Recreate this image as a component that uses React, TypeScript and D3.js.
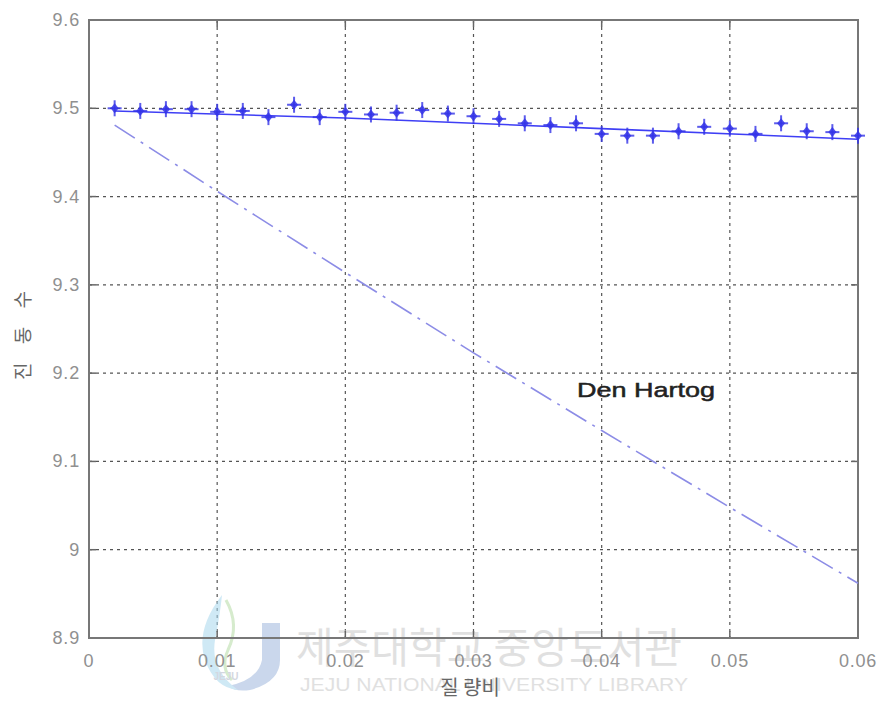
import React from "react";
import * as d3 from "d3";

const xTicks = [0, 0.01, 0.02, 0.03, 0.04, 0.05, 0.06];
const xTickLabels = ["0", "0.01", "0.02", "0.03", "0.04", "0.05", "0.06"];
const yTicks = [8.9, 9, 9.1, 9.2, 9.3, 9.4, 9.5, 9.6];
const yTickLabels = ["8.9", "9", "9.1", "9.2", "9.3", "9.4", "9.5", "9.6"];

const massRatio = [
  0.002, 0.004, 0.006, 0.008, 0.01, 0.012, 0.014, 0.016, 0.018, 0.02,
  0.022, 0.024, 0.026, 0.028, 0.03, 0.032, 0.034, 0.036, 0.038, 0.04,
  0.042, 0.044, 0.046, 0.048, 0.05, 0.052, 0.054, 0.056, 0.058, 0.06,
];
const freqMeasured = [
  9.5, 9.497, 9.499, 9.499, 9.496, 9.497, 9.49, 9.504, 9.49, 9.496,
  9.493, 9.495, 9.498, 9.494, 9.491, 9.488, 9.483, 9.481, 9.483, 9.471,
  9.469, 9.469, 9.474, 9.479, 9.477, 9.471, 9.483, 9.474, 9.473, 9.469,
];

const fitX = [0.002, 0.02, 0.04, 0.06];
const fitY = [9.497, 9.489, 9.477, 9.465];

const denX = [0.002, 0.01, 0.02, 0.03, 0.04, 0.05, 0.06];
const denY = [9.481, 9.406, 9.314, 9.223, 9.135, 9.048, 8.962];

const W = 883;
const H = 710;
const L = 89, R = 858, T = 20, B = 638;

export default function App() {
  const x = d3.scaleLinear().domain([0, 0.06]).range([L, R]);
  const y = d3.scaleLinear().domain([8.9, 9.6]).range([B, T]);
  const line = d3
    .line<[number, number]>()
    .x((d) => x(d[0]))
    .y((d) => y(d[1]));
  const fitPath = line(fitX.map((v, i) => [v, fitY[i]] as [number, number])) || "";
  const denPath = line(denX.map((v, i) => [v, denY[i]] as [number, number])) || "";
  const gridColor = "#555";
  const labelColor = "#909090";
  const font = "Liberation Sans, Arial, sans-serif";

  return (
    <svg
      width={W}
      height={H}
      style={{ position: "absolute", left: 0, top: 0, background: "#fff" }}
      fontFamily={font}
    >
      <rect x={0} y={0} width={W} height={H} fill="#fff" />
      {/* grid */}
      {xTicks.slice(1, -1).map((t) => (
        <line
          key={"gx" + t}
          x1={x(t)}
          x2={x(t)}
          y1={T}
          y2={B}
          stroke={gridColor}
          strokeWidth={1.2}
          strokeDasharray="3,4"
        />
      ))}
      {yTicks.slice(1, -1).map((t) => (
        <line
          key={"gy" + t}
          x1={L}
          x2={R}
          y1={y(t)}
          y2={y(t)}
          stroke={gridColor}
          strokeWidth={1.2}
          strokeDasharray="3,4"
        />
      ))}
      {/* watermark */}
      <g opacity={0.55}>
        <path
          d="M262,623 L280,623 L280,660 Q280,682 250,690 Q235,692 228,686 Q258,680 262,660 Z"
          fill="#9fb7dd"
        />
        <path
          d="M222,595 Q195,630 205,660 Q215,688 238,690 Q210,670 215,640 Q220,615 222,595 Z"
          fill="#a9d8ee"
        />
        <path
          d="M226,600 Q240,625 228,650 Q220,668 232,680"
          fill="none"
          stroke="#b5dca5"
          strokeWidth={3}
        />
        <text x={226} y={680} fontSize={10} fill="#b0b8c8" textAnchor="middle" fontWeight="bold">JEJU</text>
        <text
          x={296}
          y={663}
          fontSize={42}
          fill="#c8c8c8"
          fontFamily="Noto Sans CJK KR, sans-serif"
          textLength={386}
          lengthAdjust="spacingAndGlyphs"
        >
          제주대학교 중앙도서관
        </text>
        <text
          x={300}
          y={691}
          fontSize={18}
          fill="#c8c8c8"
          textLength={388}
          lengthAdjust="spacingAndGlyphs"
        >
          JEJU NATIONAL UNIVERSITY LIBRARY
        </text>
      </g>
      {/* ticks */}
      {xTicks.map((t) => (
        <g key={"tx" + t}>
          <line x1={x(t)} x2={x(t)} y1={B} y2={B - 7} stroke="#666" strokeWidth={1.5} />
          <line x1={x(t)} x2={x(t)} y1={T} y2={T + 7} stroke="#666" strokeWidth={1.5} />
        </g>
      ))}
      {yTicks.map((t) => (
        <g key={"ty" + t}>
          <line x1={L} x2={L + 7} y1={y(t)} y2={y(t)} stroke="#666" strokeWidth={1.5} />
          <line x1={R} x2={R - 7} y1={y(t)} y2={y(t)} stroke="#666" strokeWidth={1.5} />
        </g>
      ))}
      {/* box */}
      <rect x={L} y={T} width={R - L} height={B - T} fill="none" stroke="#777" strokeWidth={2} />
      {/* Den Hartog line */}
      <path d={denPath} fill="none" stroke="#8c8ce6" strokeWidth={1.6} strokeDasharray="24,7,3,7" />
      {/* fit line */}
      <path d={fitPath} fill="none" stroke="#3f3ff5" strokeWidth={1.6} />
      {/* markers */}
      {massRatio.map((m, i) => {
        const cx = x(m);
        const cy = y(freqMeasured[i]);
        return (
          <g key={"m" + i} stroke="#3434e8" fill="#3434e8">
            <line x1={cx - 7} x2={cx + 7} y1={cy} y2={cy} strokeWidth={2} opacity={0.8} />
            <line x1={cx} x2={cx} y1={cy - 8} y2={cy + 8} strokeWidth={2} opacity={0.8} />
            <path
              d={`M${cx},${cy - 5}L${cx + 4},${cy}L${cx},${cy + 5}L${cx - 4},${cy}Z`}
              stroke="none"
              opacity={0.85}
            />
          </g>
        );
      })}
      {/* tick labels */}
      {xTicks.map((t, i) => (
        <text
          key={"lx" + t}
          x={x(t)}
          y={667}
          fontSize={18}
          fill={labelColor}
          textAnchor="middle"
          letterSpacing={0.8}
        >
          {xTickLabels[i]}
        </text>
      ))}
      {yTicks.map((t, i) => (
        <text
          key={"ly" + t}
          x={80}
          y={y(t) + 6}
          fontSize={18}
          fill={labelColor}
          textAnchor="end"
          letterSpacing={0.8}
        >
          {yTickLabels[i]}
        </text>
      ))}
      {/* axis labels */}
      <text
        x={470}
        y={695}
        fontSize={20}
        fill="#666"
        textAnchor="middle"
        fontFamily="Noto Sans CJK KR, sans-serif"
      >
        질 량비
      </text>
      <text
        transform="translate(30,332) rotate(-90)"
        fontSize={19}
        fill="#666"
        textAnchor="middle"
        fontFamily="Noto Sans CJK KR, sans-serif"
        letterSpacing={7}
      >
        진 동 수
      </text>
      {/* annotation */}
      <text
        x={577}
        y={397}
        fontSize={21}
        fill="#222"
        stroke="#222"
        strokeWidth={0.5}
        textLength={138}
        lengthAdjust="spacingAndGlyphs"
      >
        Den Hartog
      </text>
    </svg>
  );
}
